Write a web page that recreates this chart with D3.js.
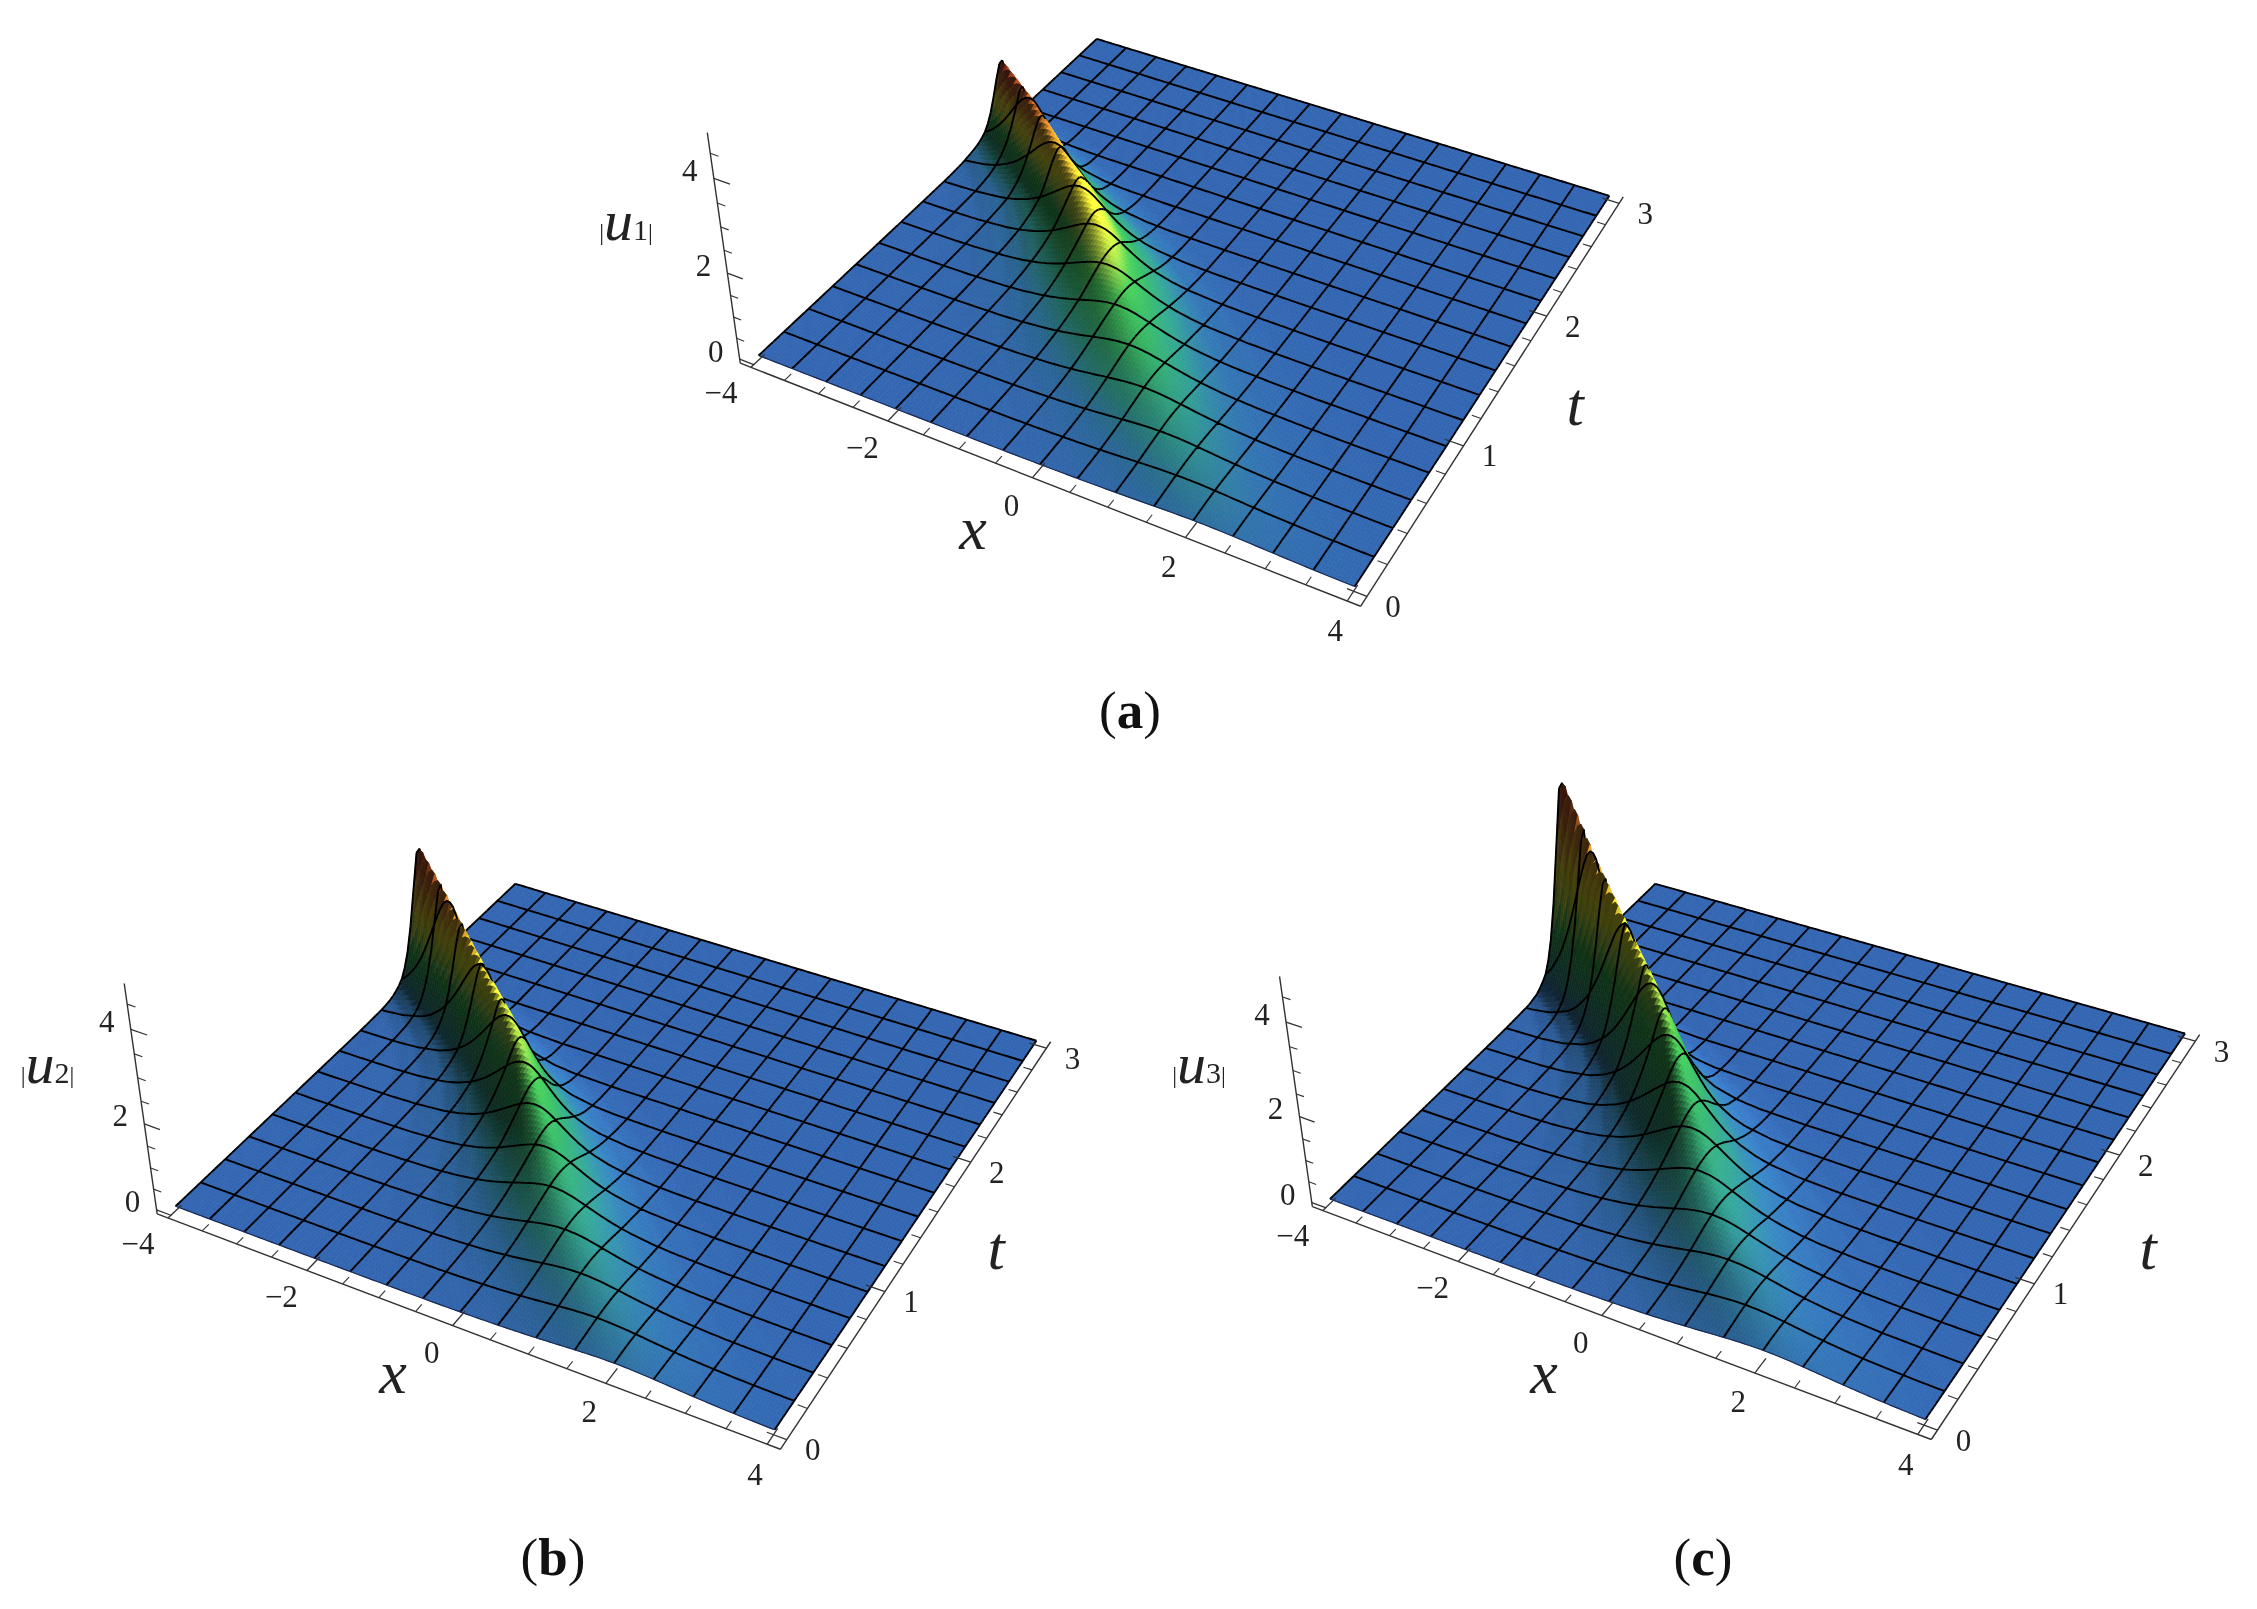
<!DOCTYPE html>
<html>
<head>
<meta charset="utf-8">
<style>
  html, body { margin: 0; padding: 0; background: #fff; }
  text { font-family: "Liberation Serif", serif; fill: #222; }
</style>
<script src="https://cdnjs.cloudflare.com/ajax/libs/d3/7.8.5/d3.min.js"></script>
</head>
<body>
<script>
// values read per mesh line, t = 0, 3/16, ... 3
var aCentre = [2.1, 1.6, 1.05, 0.5, 0.0, -0.45, -0.9, -1.35, -1.9, -2.6, -3.3, -4.2, -5.2, -6.2, -7.2, -8.2, -9.2];
var aHeight = [0.10, 0.16, 0.23, 0.33, 0.45, 0.55, 0.72, 0.88, 1.0, 1.2, 1.45, 1.72, 1.95, 2.1, 2.2, 2.3, 2.4];
var aWidth  = [0.8, 0.75, 0.7, 0.65, 0.6, 0.55, 0.5, 0.45, 0.4, 0.36, 0.3, 0.26, 0.22, 0.2, 0.19, 0.18, 0.18];

var bCentre = [2.0, 1.52, 1.0, 0.5, 0.05, -0.35, -0.8, -1.25, -1.8, -2.5, -3.3, -4.2, -5.2, -6.2, -7.2, -8.2, -9.2];
var bHeight = [0.18, 0.26, 0.36, 0.48, 0.62, 0.78, 0.98, 1.2, 1.5, 1.85, 2.45, 3.2, 3.6, 3.8, 3.9, 4.0, 4.1];
var bWidth  = [0.75, 0.7, 0.65, 0.6, 0.54, 0.48, 0.43, 0.38, 0.33, 0.29, 0.25, 0.21, 0.18, 0.17, 0.16, 0.16, 0.15];

var cCentre = [2.0, 1.5, 1.0, 0.5, 0.05, -0.35, -0.8, -1.25, -1.8, -2.5, -3.3, -4.2, -5.2, -6.2, -7.2, -8.2, -9.2];
var cHeight = [0.24, 0.34, 0.47, 0.63, 0.82, 1.05, 1.33, 1.68, 2.1, 2.65, 3.45, 4.7, 5.2, 5.6, 5.9, 6.1, 6.2];
var cWidth  = [0.8, 0.74, 0.68, 0.62, 0.56, 0.5, 0.44, 0.38, 0.33, 0.28, 0.24, 0.2, 0.17, 0.16, 0.15, 0.15, 0.14];

// cross-section of the ridge: distance from crest in widths, share of crest height
var profileDist  = [0, 0.25, 0.5, 0.75, 1, 1.25, 1.5, 1.75, 2, 2.5, 3, 4, 5, 7];
var profileShare = [1, 0.97, 0.887, 0.771, 0.648, 0.53, 0.425, 0.338, 0.266, 0.163, 0.099, 0.037, 0.013, 0];

var xTicks = [-4, -2, 0, 2, 4];
var tTicks = [0, 1, 2, 3];
var zTicks = [0, 2, 4];
var xMinor = [-3.5, -3, -2.5, -1.5, -1, -0.5, 0.5, 1, 1.5, 2.5, 3, 3.5];
var tMinor = [0.2, 0.4, 0.6, 0.8, 1.2, 1.4, 1.6, 1.8, 2.2, 2.4, 2.6, 2.8];
var zMinor = [0.5, 1, 1.5, 2.5, 3, 3.5, 4.5];

var colourStops = [0, 0.05, 0.13, 0.24, 0.34, 0.44, 0.55, 0.75, 1];
var colourRange = ["#3366b2", "#2f6fa6", "#2c8a82", "#2f9c5a", "#3cae4c", "#a6cc40", "#e8e030", "#c87a28", "#a01e1e"];

var panels = [
  { sub: "1", caption: "a", centre: aCentre, height: aHeight, width: aWidth, zTop: 1.7,
    A: [758.6, 355.5], B: [1354.5, 587.3], C: [1609.3, 195.8], D: [1096.8, 38.9],
    uPos: [626, 240], xPos: [973, 528], tPos: [1575, 404], capPos: [1130, 710] },
  { sub: "2", caption: "b", centre: bCentre, height: bHeight, width: bWidth, zTop: 3.1,
    A: [175.6, 1206.2], B: [774.4, 1430.8], C: [1036.4, 1040.7], D: [515.3, 883.8],
    uPos: [47.5, 1083], xPos: [393, 1372], tPos: [996, 1248], capPos: [553, 1557] },
  { sub: "3", caption: "c", centre: cCentre, height: cHeight, width: cWidth, zTop: 4.6,
    A: [1330, 1199], B: [1925, 1421], C: [2185, 1033.5], D: [1655.3, 883.8],
    uPos: [1199, 1083], xPos: [1544, 1372], tPos: [2148, 1248], capPos: [1703, 1557] }
];

var NX = 176, NT = 112, MESH_X = 11, MESH_T = 7;
var xPad = 0.16, tPad = 0.06, zPad = 0.1;
var zLift = -0.0231;          // perspective strength of the height axis
var nadir = [234, 1773];      // vertical vanishing point, relative to corner A

var svg = d3.select("body").append("svg")
  .attr("width", 2257).attr("height", 1609)
  .style("display", "block");

var defs = svg.append("defs");
defs.append("filter").attr("id", "soft").attr("x", "-5%").attr("y", "-5%").attr("width", "110%").attr("height", "110%")
  .append("feGaussianBlur").attr("stdDeviation", 0.6);
defs.append("filter").attr("id", "softText")
  .append("feGaussianBlur").attr("stdDeviation", 0.4);

var xScale = d3.scaleLinear().domain([-4, 4]).range([0, 1]);
var tScale = d3.scaleLinear().domain([0, 3]).range([0, 1]);
var tKnots = d3.range(17).map(function(k) { return k * 3 / 16; });
var profile = d3.scaleLinear().domain(profileDist).range(profileShare).clamp(true);

var colour = d3.scaleLinear().domain(colourStops).range(colourRange)
  .interpolate(d3.interpolateRgb).clamp(true);

// homography of the unit square onto the floor corners
function floorMap(p) {
  var dx1 = p.B[0] - p.C[0], dy1 = p.B[1] - p.C[1];
  var dx2 = p.D[0] - p.C[0], dy2 = p.D[1] - p.C[1];
  var sx = p.A[0] - p.B[0] + p.C[0] - p.D[0], sy = p.A[1] - p.B[1] + p.C[1] - p.D[1];
  var det = dx1 * dy2 - dx2 * dy1;
  var g = (sx * dy2 - dx2 * sy) / det;
  var h = (dx1 * sy - sx * dy1) / det;
  return {
    a: p.B[0] - p.A[0] + g * p.B[0], b: p.D[0] - p.A[0] + h * p.D[0], c: p.A[0],
    d: p.B[1] - p.A[1] + g * p.B[1], e: p.D[1] - p.A[1] + h * p.D[1], f: p.A[1],
    g: g, h: h
  };
}

function drawPanel(p) {
  var m = floorMap(p);
  var nx = p.A[0] + nadir[0], ny = p.A[1] + nadir[1];

  function project(x, t, z) {
    var u = xScale(x), v = tScale(t);
    var w = m.g * u + m.h * v + 1 + z * zLift;
    return [
      (m.a * u + m.b * v + m.c + z * zLift * nx) / w,
      (m.d * u + m.e * v + m.f + z * zLift * ny) / w
    ];
  }

  var centre = d3.scaleLinear().domain(tKnots).range(p.centre);
  var height = d3.scaleLinear().domain(tKnots).range(p.height);
  var width = d3.scaleLinear().domain(tKnots).range(p.width);

  function surface(x, t) {
    return height(t) * profile(Math.abs(x - centre(t)) / width(t));
  }

  var g = svg.append("g");
  var surf = g.append("g").attr("filter", "url(#soft)");

  // fine grid, t descending so that nearer rows paint over farther ones
  var xs = d3.range(NX + 1).map(function(j) { return -4 + 8 * j / NX; });
  var ts = d3.range(NT + 1).map(function(i) { return 3 * i / NT; });
  var zs = ts.map(function(t) { return xs.map(function(x) { return surface(x, t); }); });
  var pts = ts.map(function(t, i) { return xs.map(function(x, j) { return project(x, t, zs[i][j]); }); });

  var lx = 0.62, ly = 0.3, lz = 0.72;
  var flat = 0.26 + 0.85 * lz;

  function cellColour(i, j) {
    var z = (zs[i][j] + zs[i + 1][j] + zs[i][j + 1] + zs[i + 1][j + 1]) / 4;
    var zx = (zs[i][j + 1] + zs[i + 1][j + 1] - zs[i][j] - zs[i + 1][j]) / 2 / (8 / NX);
    var zt = (zs[i + 1][j] + zs[i + 1][j + 1] - zs[i][j] - zs[i][j + 1]) / 2 / (3 / NT);
    var nxv = -zx * 0.8, nyv = -zt * 0.28, len = Math.sqrt(nxv * nxv + nyv * nyv + 1);
    var dot = (nxv * lx + nyv * ly + lz) / len;
    var shade = Math.min(1.22, (0.26 + 0.85 * Math.max(0, dot)) / flat);
    var c = d3.rgb(colour(z / p.zTop));
    return "rgb(" + Math.min(255, c.r * shade) + "," + Math.min(255, c.g * shade) + "," + Math.min(255, c.b * shade) + ")";
  }

  function meshPath(i) {
    var path = d3.path();
    var j, k;
    for (j = 0; j <= NX; j += MESH_X) {
      path.moveTo(pts[i][j][0], pts[i][j][1]);
      path.lineTo(pts[i + 1][j][0], pts[i + 1][j][1]);
    }
    if ((i + 1) % MESH_T === 0) {
      path.moveTo(pts[i + 1][0][0], pts[i + 1][0][1]);
      for (k = 1; k <= NX; k++) path.lineTo(pts[i + 1][k][0], pts[i + 1][k][1]);
    }
    return path.toString();
  }

  function drawMesh(i) {
    surf.append("path").attr("d", meshPath(i))
      .attr("fill", "none").attr("stroke", "#000")
      .attr("stroke-width", 1.9).attr("stroke-linejoin", "round");
  }

  var i;
  for (i = NT - 1; i >= 0; i--) {
    var row = d3.range(NX).map(function(j) { return { i: i, j: j }; });
    surf.append("g").selectAll("path").data(row).join("path")
      .attr("d", function(d) {
        var a = pts[d.i][d.j], b = pts[d.i][d.j + 1], c = pts[d.i + 1][d.j + 1], e = pts[d.i + 1][d.j];
        return "M" + a[0] + "," + a[1] + "L" + b[0] + "," + b[1] + "L" + c[0] + "," + c[1] + "L" + e[0] + "," + e[1] + "Z";
      })
      .attr("fill", function(d) { return cellColour(d.i, d.j); })
      .attr("stroke", function(d) { return cellColour(d.i, d.j); })
      .attr("stroke-width", 0.7);
    if (i < NT - 1) drawMesh(i + 1);
  }
  drawMesh(0);
  // front edge of the surface
  surf.append("path")
    .attr("d", d3.line()(pts[0]))
    .attr("fill", "none").attr("stroke", "#1a2a55").attr("stroke-width", 1.2);

  // box axes
  var axes = g.append("g").attr("filter", "url(#softText)");
  var x0 = -4 - xPad, x1 = 4 + xPad, t0 = -tPad, t1 = 3 + tPad, z0 = -zPad, z1 = 4.9;

  function seg(a, b, w, col) {
    axes.append("path").attr("d", d3.line()([a, b]))
      .attr("fill", "none").attr("stroke", col || "#333").attr("stroke-width", w);
  }
  seg(project(x0, t0, z0), project(x1, t0, z0), 1.4);
  seg(project(x1, t0, z0), project(x1, t1, z0), 1.4);
  seg(project(x0, t0, z0), project(x0, t0, z1), 1.4);

  xTicks.forEach(function(v) { seg(project(v, t0, z0), project(v, t0 + 0.1, z0), 1.3); });
  xMinor.forEach(function(v) { seg(project(v, t0, z0), project(v, t0 + 0.05, z0), 1.1); });
  tTicks.forEach(function(v) { seg(project(x1, v, z0), project(x1 - 0.24, v, z0), 1.3); });
  tMinor.forEach(function(v) { seg(project(x1, v, z0), project(x1 - 0.12, v, z0), 1.1); });
  zTicks.forEach(function(v) { seg(project(x0, t0, v), project(x0 + 0.22, t0, v), 1.3); });
  zMinor.forEach(function(v) { seg(project(x0, t0, v), project(x0 + 0.11, t0, v), 1.1); });

  // labels
  var labels = g.append("g").attr("filter", "url(#softText)");

  function tickLabel(pos, dx, dy, txt) {
    labels.append("text")
      .attr("x", pos[0] + dx).attr("y", pos[1] + dy)
      .attr("text-anchor", "middle").attr("dominant-baseline", "central")
      .attr("font-size", 31)
      .text(txt);
  }
  function minus(v) { return v < 0 ? "\u2212" + (-v) : "" + v; }

  xTicks.forEach(function(v) { tickLabel(project(v, t0, z0), -30 + (v + 4) * 2.25, 25 + (v + 4) * 0.6, minus(v)); });
  tTicks.forEach(function(v) { tickLabel(project(x1, v, z0), 26, 10, minus(v)); });
  zTicks.forEach(function(v) { tickLabel(project(x0, t0, v), -24, -8, minus(v)); });

  labels.append("text").attr("x", p.xPos[0]).attr("y", p.xPos[1])
    .attr("text-anchor", "middle").attr("dominant-baseline", "central")
    .attr("font-size", 62).attr("font-style", "italic").text("x");
  labels.append("text").attr("x", p.tPos[0]).attr("y", p.tPos[1])
    .attr("text-anchor", "middle").attr("dominant-baseline", "central")
    .attr("font-size", 62).attr("font-style", "italic").text("t");

  // baseline set by hand so the index sits on the line, as in the figure
  var u = labels.append("text").attr("x", p.uPos[0]).attr("y", p.uPos[1])
    .attr("text-anchor", "middle");
  u.append("tspan").attr("font-size", 24).text("|");
  u.append("tspan").attr("font-size", 58).attr("font-style", "italic").text("u");
  u.append("tspan").attr("font-size", 30).text(p.sub);
  u.append("tspan").attr("font-size", 24).text("|");

  var cap = g.append("text").attr("x", p.capPos[0]).attr("y", p.capPos[1])
    .attr("text-anchor", "middle").attr("dominant-baseline", "central")
    .attr("font-size", 53).style("fill", "#111");
  cap.append("tspan").text("(");
  cap.append("tspan").attr("font-weight", "bold").text(p.caption);
  cap.append("tspan").text(")");
}

panels.forEach(drawPanel);
</script>
</body>
</html>
